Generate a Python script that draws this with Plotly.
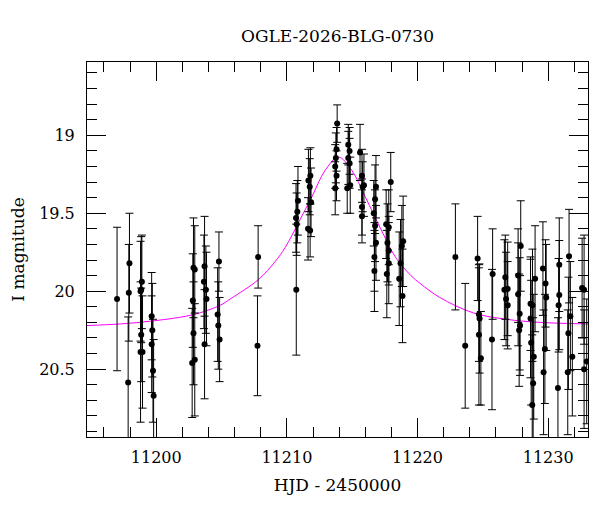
import plotly.graph_objects as go

# ---- observations (HJD - 2450000, I mag, error) ----
hjd = [
    11197.00, 11197.95, 11197.90, 11197.85,
    11198.90, 11198.85, 11198.80, 11198.85, 11198.80, 11198.95,
    11199.65, 11199.70, 11199.65, 11199.75, 11199.80,
    11202.85, 11202.95, 11202.80, 11202.85, 11202.75, 11202.95,
    11203.70, 11203.65, 11203.80, 11203.85, 11203.70,
    11204.80, 11204.70, 11204.75, 11204.85,
    11207.80, 11207.75,
    11210.85, 11210.80, 11210.70, 11210.75, 11210.72,
    11211.80, 11211.65, 11211.75, 11211.85, 11211.62, 11211.78,
    11213.85, 11213.80, 11213.75, 11213.70, 11213.80, 11213.70,
    11214.70, 11214.80, 11214.70, 11214.80, 11214.85, 11214.62,
    11215.60, 11215.75, 11215.90, 11215.80, 11215.75, 11215.75,
    11216.82, 11216.75, 11216.65, 11216.75, 11216.82, 11216.70, 11216.70,
    11217.95, 11217.60, 11217.80, 11217.70, 11217.80, 11217.80, 11217.65,
    11218.90, 11218.80, 11218.70, 11218.60, 11218.85,
    11222.90, 11223.65,
    11224.60, 11224.70, 11224.75, 11224.70, 11224.85,
    11225.75, 11225.70,
    11226.72, 11226.65, 11226.90, 11226.78, 11226.90,
    11227.90, 11227.70, 11227.70, 11227.82, 11227.85, 11227.78,
    11229.00, 11228.65, 11228.80, 11228.65, 11228.70, 11228.90, 11228.85, 11228.78,
    11229.60, 11229.80, 11229.85, 11229.75, 11229.65,
    11230.85, 11230.85, 11230.80, 11230.75,
    11231.60, 11231.70, 11231.55, 11231.85, 11231.50,
    11232.60, 11232.75, 11232.75, 11232.95,
]
mag = [
    20.05, 19.82, 20.01, 20.585,
    19.94, 19.99, 20.00, 20.28, 20.39, 20.39,
    20.16, 20.25, 20.34, 20.51, 20.67,
    19.85, 19.86, 20.06, 20.27, 20.46, 20.44,
    19.84, 19.94, 19.99, 20.05, 20.34,
    19.81, 20.15, 20.22, 20.31,
    19.78, 20.35,
    19.42, 19.49, 19.53, 19.57, 19.99,
    19.26, 19.29, 19.33, 19.43, 19.60, 19.61,
    18.925, 19.09, 19.145, 19.20, 19.26, 19.34,
    19.06, 19.10, 19.145, 19.18, 19.32, 19.34,
    19.11, 19.26, 19.32, 19.33, 19.46, 19.52,
    19.33, 19.41, 19.50, 19.58, 19.69, 19.78, 19.87,
    19.30, 19.57, 19.59, 19.69, 19.74, 19.82, 19.89,
    19.68, 19.71, 19.82, 19.92, 20.03,
    19.78, 20.35,
    19.79, 20.15, 20.175, 20.28, 20.43,
    19.89, 20.31,
    19.91, 19.99, 19.985, 20.05, 20.09,
    19.71, 19.90, 20.02, 20.145, 20.22, 20.25,
    19.92, 20.08, 20.09, 20.175, 20.33, 20.42, 20.59, 20.73,
    19.855, 19.95, 20.04, 20.37, 20.52,
    19.83, 20.025, 20.09, 20.62,
    19.775, 20.16, 20.27, 20.42, 20.52,
    19.98, 19.99, 20.50, 20.45,
]
mag_err = [
    0.46, 0.32, 0.31, 0.42,
    0.30, 0.34, 0.32, 0.30, 0.45, 0.36,
    0.28, 0.30, 0.31, 0.33, 0.36,
    0.32, 0.28, 0.30, 0.33, 0.35, 0.36,
    0.32, 0.30, 0.28, 0.30, 0.35,
    0.19, 0.30, 0.28, 0.27,
    0.20, 0.32,
    0.22, 0.20, 0.22, 0.20, 0.42,
    0.18, 0.20, 0.18, 0.22, 0.20, 0.17,
    0.12, 0.14, 0.16, 0.14, 0.16, 0.17,
    0.13, 0.15, 0.17, 0.16, 0.18, 0.16,
    0.18, 0.17, 0.20, 0.16, 0.18, 0.17,
    0.20, 0.22, 0.21, 0.23, 0.24, 0.22, 0.26,
    0.19, 0.22, 0.24, 0.25, 0.22, 0.26, 0.28,
    0.29, 0.26, 0.28, 0.30, 0.30,
    0.34, 0.40,
    0.27, 0.30, 0.35, 0.45, 0.30,
    0.29, 0.45,
    0.27, 0.32, 0.30, 0.30, 0.28,
    0.29, 0.30, 0.33, 0.36, 0.32, 0.36,
    0.34, 0.30, 0.36, 0.38, 0.40, 0.40, 0.42, 0.45,
    0.30, 0.28, 0.34, 0.35, 0.40,
    0.30, 0.35, 0.30, 0.45,
    0.30, 0.35, 0.36, 0.38, 0.40,
    0.32, 0.35, 0.38, 0.40,
]

# ---- model curve ----
model_hjd = [11194.7, 11197.25, 11199.8, 11202.85, 11204.9, 11205.66, 11207.83,
             11209.1, 11209.87, 11210.89, 11211.91, 11212.93, 11213.95,
             11214.97, 11216.0, 11217.3, 11218.3,
             11219.5, 11220.2, 11221.7, 11224.3, 11226.8, 11229.4, 11233.05]
model_mag = [20.22, 20.21, 20.19, 20.15, 20.09, 20.05, 19.925,
             19.81, 19.72, 19.56, 19.395, 19.225, 19.14,
             19.225, 19.395, 19.62, 19.78,
             19.90, 19.95, 20.04, 20.14, 20.18, 20.20, 20.21]

x_tickvals = [11200, 11210, 11220, 11230]
x_ticktext = ["11200", "11210", "11220", "11230"]
y_tickvals = [19, 19.5, 20, 20.5]
y_ticktext = ["19", "19.5", "20", "20.5"]

title_text = "OGLE-2026-BLG-0730"
x_title = "HJD - 2450000"
y_title = "I magnitude"

FONT = "DejaVu Serif"

fig = go.Figure()
fig.add_trace(go.Scatter(
    x=model_hjd, y=model_mag, mode="lines",
    line=dict(color="#ff00ff", width=1, shape="spline", smoothing=1.0),
    hoverinfo="skip", showlegend=False,
))
fig.add_trace(go.Scatter(
    x=hjd, y=mag, mode="markers",
    marker=dict(color="black", size=6),
    error_y=dict(type="data", array=mag_err, visible=True,
                 color="black", thickness=1, width=4),
    showlegend=False,
))

axis_common = dict(
    showline=True, linecolor="black", linewidth=1, mirror="allticks",
    ticks="inside", tickcolor="black", tickwidth=1, ticklen=19,
    showgrid=False, zeroline=False, automargin=False,
    tickfont=dict(family=FONT, size=16, color="black"),
)

fig.update_xaxes(
    range=[11194.7, 11233.05],
    tickmode="array", tickvals=x_tickvals, ticktext=x_ticktext,
    minor=dict(dtick=2, tick0=11200, ticks="inside", ticklen=10,
               tickcolor="black", tickwidth=1, showgrid=False),
    title=dict(text=x_title, font=dict(family=FONT, size=17, color="black"),
               standoff=12),
    ticklabelstandoff=6,
    **axis_common,
)
fig.update_yaxes(
    range=[20.935, 18.53],
    tickmode="array", tickvals=y_tickvals, ticktext=y_ticktext,
    minor=dict(dtick=0.1, tick0=19, ticks="inside", ticklen=10,
               tickcolor="black", tickwidth=1, showgrid=False),
    title=dict(text=y_title, font=dict(family=FONT, size=17, color="black"),
               standoff=10),
    ticklabelstandoff=8,
    **axis_common,
)

fig.update_layout(
    width=600, height=512,
    margin=dict(l=87, r=12, t=62, b=75, autoexpand=False),
    paper_bgcolor="white", plot_bgcolor="white",
    title=dict(text=title_text, x=(87 + 588) / 2 / 600, xanchor="center",
               y=1 - 36 / 512, yanchor="middle",
               font=dict(family=FONT, size=17, color="black")),
)

fig.write_html(
    "out.html",
    config={"displayModeBar": False},
    post_script="document.body.style.margin='0';document.body.style.overflow='hidden';",
)
